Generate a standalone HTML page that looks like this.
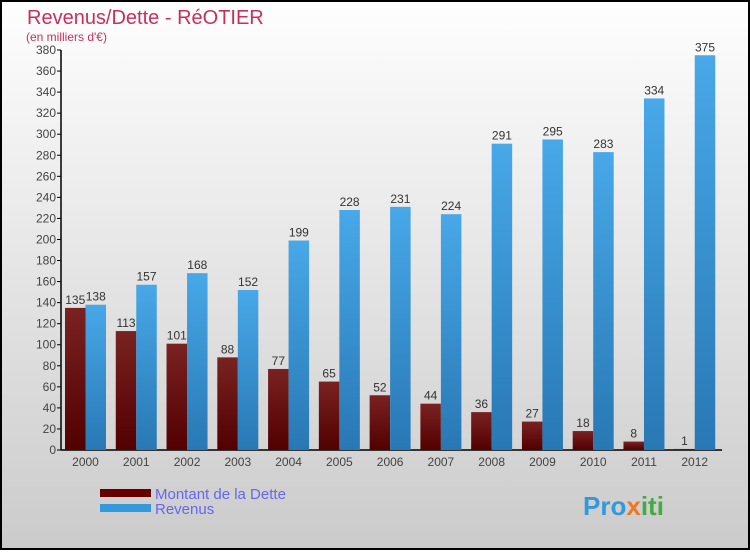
<!DOCTYPE html>
<html><head><meta charset="utf-8"><style>
html,body{margin:0;padding:0}
body{width:750px;height:550px;overflow:hidden;font-family:"Liberation Sans",sans-serif}
</style></head><body>
<svg id="c" width="750" height="550" xmlns="http://www.w3.org/2000/svg">
<defs>
<linearGradient id="bg" x1="0" y1="0" x2="0" y2="1"><stop offset="0" stop-color="#fefefe"/><stop offset="1" stop-color="#cbcbcb"/></linearGradient>
<linearGradient id="gd" x1="0" y1="0" x2="0" y2="1"><stop offset="0" stop-color="#7a2222"/><stop offset="1" stop-color="#520000"/></linearGradient>
<linearGradient id="gr" x1="0" y1="0" x2="0" y2="1"><stop offset="0" stop-color="#48a8e8"/><stop offset="1" stop-color="#2878b4"/></linearGradient>
</defs>
<rect x="1" y="1" width="748" height="548" fill="url(#bg)" stroke="#000" stroke-width="2"/>
<text x="27" y="24" font-size="20" fill="#c8305a">Revenus/Dette - RéOTIER</text>
<text x="26" y="41" font-size="12" fill="#c8305a">(en milliers d'€)</text>
<g id="axes"></g>
<g id="bars"></g>
<g>
<rect x="100" y="489" width="51" height="8" fill="#660000"/>
<text x="155" y="499" font-size="15" fill="#6666ee">Montant de la Dette</text>
<rect x="100" y="504" width="51" height="8" fill="#3399dd"/>
<text x="155" y="514" font-size="15" fill="#6666ee">Revenus</text>
</g>
<text x="583" y="515" font-size="26" font-weight="bold" fill="#3399dd">Pro<tspan fill="#ee7722">x</tspan><tspan fill="#44aa44">iti</tspan></text>
</svg>
<script>
const years=["2000","2001","2002","2003","2004","2005","2006","2007","2008","2009","2010","2011","2012"];
const dette=[135,113,101,88,77,65,52,44,36,27,18,8,1];
const revenus=[138,157,168,152,199,228,231,224,291,295,283,334,375];
const yTicks=[0,20,40,60,80,100,120,140,160,180,200,220,240,260,280,300,320,340,360,380];
const NS="http://www.w3.org/2000/svg";
const x0=61,y0=450,yMax=380,plotH=400,pitch=50.77,bw=20.5;
function y(v){return y0-v/yMax*plotH;}
function gx(i){return x0+4+i*pitch;}
function mk(t,a,p,txt){const e=document.createElementNS(NS,t);for(const k in a)e.setAttribute(k,a[k]);if(txt!==undefined)e.textContent=txt;p.appendChild(e);return e;}
const ax=document.getElementById('axes'),bars=document.getElementById('bars');
let l=mk('line',{x1:x0,y1:y(yMax),x2:x0,y2:y0,stroke:'#000','stroke-width':1.5},ax);


l=mk('line',{x1:x0,y1:y0,x2:722,y2:y0,stroke:'#000','stroke-width':1.5},ax);


yTicks.forEach(v=>{
 mk('line',{x1:x0-4,y1:y(v),x2:x0,y2:y(v),stroke:'#000'},ax);
 const t=mk('text',{x:x0-5,y:y(v)+4,'font-size':12,fill:'#444','text-anchor':'end'},ax,v);
 
 
});
years.forEach((yr,i)=>{
 const g=gx(i);
 const t=mk('text',{x:g+bw,y:466,'font-size':12,fill:'#444','text-anchor':'middle'},ax,yr);
 
 
 const b1=mk('rect',{x:g,y:y(dette[i]),width:bw,height:y0-y(dette[i]),fill:'url(#gd)'},bars);
 
 
 const b2=mk('rect',{x:g+bw,y:y(revenus[i]),width:bw,height:y0-y(revenus[i]),fill:'url(#gr)'},bars);
 
 
 const l1=mk('text',{x:g+bw/2,y:y(dette[i])-4,'font-size':12,fill:'#333','text-anchor':'middle'},bars,dette[i]);
 
 
 const l2=mk('text',{x:g+bw*1.5,y:y(revenus[i])-4,'font-size':12,fill:'#333','text-anchor':'middle'},bars,revenus[i]);
 
 
});
</script>
</body></html>
